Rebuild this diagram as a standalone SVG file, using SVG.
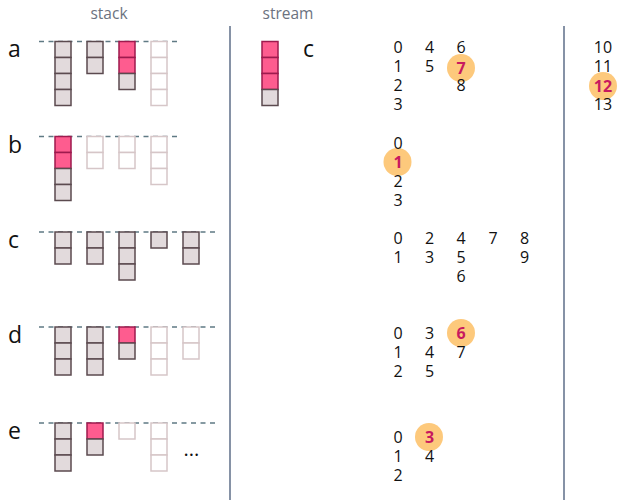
<svg xmlns="http://www.w3.org/2000/svg" width="617" height="500" viewBox="0 0 617 500">
<style>
.hdr{font-family:"Open Sans","Noto Sans",sans-serif;font-size:15.5px;fill:#6b7280;text-anchor:middle}
.row{font-family:"Open Sans","Noto Sans",sans-serif;font-size:23px;fill:#111}
.n{font-family:"Open Sans","Noto Sans",sans-serif;font-size:16px;fill:#111;text-anchor:middle}
.h{font-family:"Open Sans","Noto Sans",sans-serif;font-size:16px;font-weight:bold;fill:#c8195f;text-anchor:middle}
.hc{fill:#fdc97c}
.g{fill:#e2dadc;stroke:#5b4a4f;stroke-width:1.5}
.p{fill:#fe5c8f;stroke:#9e1a4e;stroke-width:1.5}
.f{fill:#fff;stroke:#d6c6c8;stroke-width:1.5}
.dash{stroke:#5f7a84;stroke-width:1.5;stroke-dasharray:5 4.5;fill:none}
.sep{stroke:#8692a6;stroke-width:2;fill:none}
</style>
<g id="headers">
<text class="hdr" x="109" y="19">stack</text>
<text class="hdr" x="288" y="19">stream</text>
</g>
<g id="separators">
<line class="sep" x1="230" y1="26" x2="230" y2="500"/>
<line class="sep" x1="564" y1="26" x2="564" y2="500"/>
</g>
<g id="row-labels">
<text class="row" x="8" y="57">a</text>
<text class="row" x="8" y="153">b</text>
<text class="row" x="8" y="248">c</text>
<text class="row" x="8" y="343">d</text>
<text class="row" x="8" y="439">e</text>
<text class="row" x="303" y="57">c</text>
</g>
<g id="stack-a">
<line class="dash" x1="39" y1="41.5" x2="177" y2="41.5"/>
<rect class="g" x="55" y="41.5" width="16" height="16"/><rect class="g" x="55" y="57.5" width="16" height="16"/><rect class="g" x="55" y="73.5" width="16" height="16"/><rect class="g" x="55" y="89.5" width="16" height="16"/>
<rect class="g" x="87" y="41.5" width="16" height="16"/><rect class="g" x="87" y="57.5" width="16" height="16"/>
<rect class="p" x="119" y="41.5" width="16" height="16"/><rect class="p" x="119" y="57.5" width="16" height="16"/><rect class="g" x="119" y="73.5" width="16" height="16"/>
<rect class="f" x="151" y="41.5" width="16" height="16"/><rect class="f" x="151" y="57.5" width="16" height="16"/><rect class="f" x="151" y="73.5" width="16" height="16"/><rect class="f" x="151" y="89.5" width="16" height="16"/>
</g>
<g id="stack-b">
<line class="dash" x1="39" y1="136.5" x2="177" y2="136.5"/>
<rect class="p" x="55" y="136.5" width="16" height="16"/><rect class="p" x="55" y="152.5" width="16" height="16"/><rect class="g" x="55" y="168.5" width="16" height="16"/><rect class="g" x="55" y="184.5" width="16" height="16"/>
<rect class="f" x="87" y="136.5" width="16" height="16"/><rect class="f" x="87" y="152.5" width="16" height="16"/>
<rect class="f" x="119" y="136.5" width="16" height="16"/><rect class="f" x="119" y="152.5" width="16" height="16"/>
<rect class="f" x="151" y="136.5" width="16" height="16"/><rect class="f" x="151" y="152.5" width="16" height="16"/><rect class="f" x="151" y="168.5" width="16" height="16"/>
</g>
<g id="stack-c">
<line class="dash" x1="39" y1="232" x2="215" y2="232"/>
<rect class="g" x="55" y="232" width="16" height="16"/><rect class="g" x="55" y="248" width="16" height="16"/>
<rect class="g" x="87" y="232" width="16" height="16"/><rect class="g" x="87" y="248" width="16" height="16"/>
<rect class="g" x="119" y="232" width="16" height="16"/><rect class="g" x="119" y="248" width="16" height="16"/><rect class="g" x="119" y="264" width="16" height="16"/>
<rect class="g" x="151" y="232" width="16" height="16"/>
<rect class="g" x="183" y="232" width="16" height="16"/><rect class="g" x="183" y="248" width="16" height="16"/>
</g>
<g id="stack-d">
<line class="dash" x1="39" y1="327" x2="215" y2="327"/>
<rect class="g" x="55" y="327" width="16" height="16"/><rect class="g" x="55" y="343" width="16" height="16"/><rect class="g" x="55" y="359" width="16" height="16"/>
<rect class="g" x="87" y="327" width="16" height="16"/><rect class="g" x="87" y="343" width="16" height="16"/><rect class="g" x="87" y="359" width="16" height="16"/>
<rect class="p" x="119" y="327" width="16" height="16"/><rect class="g" x="119" y="343" width="16" height="16"/>
<rect class="f" x="151" y="327" width="16" height="16"/><rect class="f" x="151" y="343" width="16" height="16"/><rect class="f" x="151" y="359" width="16" height="16"/>
<rect class="f" x="183" y="327" width="16" height="16"/><rect class="f" x="183" y="343" width="16" height="16"/>
</g>
<g id="stack-e">
<line class="dash" x1="39" y1="423" x2="215" y2="423"/>
<rect class="g" x="55" y="423" width="16" height="16"/><rect class="g" x="55" y="439" width="16" height="16"/><rect class="g" x="55" y="455" width="16" height="16"/>
<rect class="p" x="87" y="423" width="16" height="16"/><rect class="g" x="87" y="439" width="16" height="16"/>
<rect class="f" x="119" y="423" width="16" height="16"/>
<rect class="f" x="151" y="423" width="16" height="16"/><rect class="f" x="151" y="439" width="16" height="16"/><rect class="f" x="151" y="455" width="16" height="16"/>
<text class="n" x="191.5" y="456" style="font-size:20px">...</text>
</g>
<g id="stream-stack">
<rect class="p" x="262" y="41.5" width="16" height="16"/><rect class="p" x="262" y="57.5" width="16" height="16"/><rect class="p" x="262" y="73.5" width="16" height="16"/><rect class="g" x="262" y="89.5" width="16" height="16"/>
</g>
<g id="nums-a">
<circle class="hc" cx="461" cy="68" r="14"/>
<text class="n" x="398" y="53">0</text><text class="n" x="398" y="72">1</text><text class="n" x="398" y="91">2</text><text class="n" x="398" y="110">3</text>
<text class="n" x="429.5" y="53">4</text><text class="n" x="429.5" y="72">5</text>
<text class="n" x="461" y="53">6</text><text class="h" x="461" y="73.5">7</text><text class="n" x="461" y="91">8</text>
<circle class="hc" cx="603" cy="86" r="14"/>
<text class="n" x="603" y="53">10</text><text class="n" x="603" y="72">11</text><text class="h" x="603" y="91.5">12</text><text class="n" x="603" y="110">13</text>
</g>
<g id="nums-b">
<circle class="hc" cx="397.5" cy="162" r="14"/>
<text class="n" x="398" y="149">0</text><text class="h" x="398" y="168">1</text><text class="n" x="398" y="187">2</text><text class="n" x="398" y="206">3</text>
</g>
<g id="nums-c">
<text class="n" x="398" y="244">0</text><text class="n" x="398" y="263">1</text>
<text class="n" x="429.5" y="244">2</text><text class="n" x="429.5" y="263">3</text>
<text class="n" x="461" y="244">4</text><text class="n" x="461" y="263">5</text><text class="n" x="461" y="282">6</text>
<text class="n" x="493" y="244">7</text>
<text class="n" x="524.5" y="244">8</text><text class="n" x="524.5" y="263">9</text>
</g>
<g id="nums-d">
<circle class="hc" cx="461" cy="333" r="14"/>
<text class="n" x="398" y="339">0</text><text class="n" x="398" y="358">1</text><text class="n" x="398" y="377">2</text>
<text class="n" x="429.5" y="339">3</text><text class="n" x="429.5" y="358">4</text><text class="n" x="429.5" y="377">5</text>
<text class="h" x="461" y="339">6</text><text class="n" x="461" y="358">7</text>
</g>
<g id="nums-e">
<circle class="hc" cx="429" cy="437" r="14"/>
<text class="n" x="398" y="443">0</text><text class="n" x="398" y="462">1</text><text class="n" x="398" y="481">2</text>
<text class="h" x="429.5" y="443">3</text><text class="n" x="429.5" y="462">4</text>
</g>
</svg>
